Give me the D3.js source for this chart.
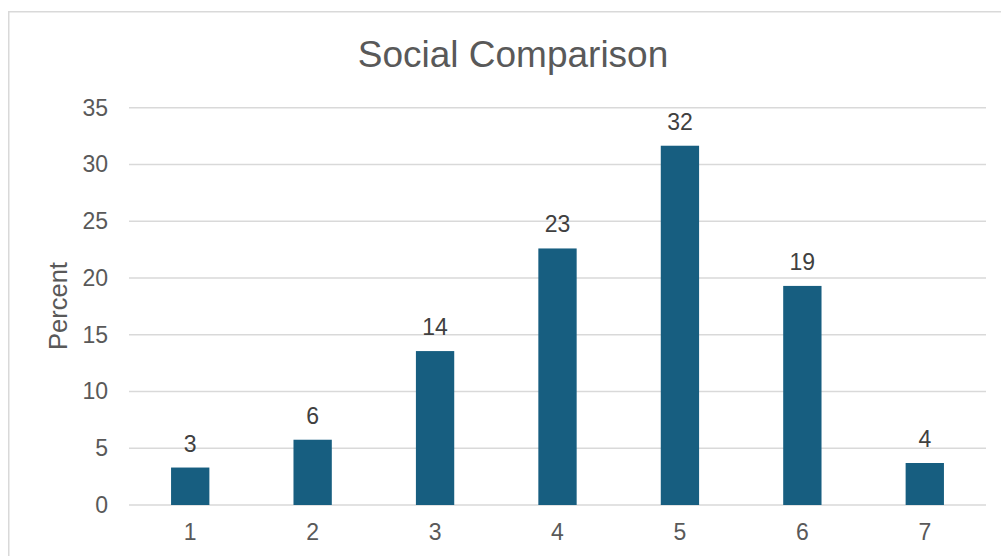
<!DOCTYPE html>
<html>
<head>
<meta charset="utf-8">
<script src="https://cdn.jsdelivr.net/npm/d3@7/dist/d3.min.js"></script>
<style>
  html, body { margin: 0; padding: 0; background: #fff; }
  svg { display: block; font-family: "Liberation Sans", Arial, sans-serif; }
</style>
</head>
<body>
<svg id="chart" width="1001" height="556"></svg>
<script>
// Response scale points and share of respondents (percent)
const categories = ["1", "2", "3", "4", "5", "6", "7"];
const percents = [3.3, 5.75, 13.56, 22.6, 31.65, 19.3, 3.7];
const yTicks = [0, 5, 10, 15, 20, 25, 30, 35];
const chartTitle = "Social Comparison";
const yTitle = "Percent";

const svg = d3.select("#chart");
const W = 1001, H = 556;
const plot = { left: 129, right: 986, top: 107.7, bottom: 505 };

// Chart-area frame
svg.append("rect")
  .attr("x", 8.75).attr("y", 11.75)
  .attr("width", W + 20).attr("height", H + 20)
  .attr("fill", "#fff")
  .attr("stroke", "#d9d9d9").attr("stroke-width", 1.5);

const x = d3.scaleBand()
  .domain(categories)
  .range([plot.left, plot.right])
  .paddingInner(0.687)
  .paddingOuter(0.3435);

const y = d3.scaleLinear()
  .domain([0, 35])
  .range([plot.bottom, plot.top]);

// Horizontal gridlines
svg.append("g")
  .selectAll("line")
  .data(yTicks)
  .join("line")
  .attr("x1", plot.left).attr("x2", plot.right)
  .attr("y1", d => y(d)).attr("y2", d => y(d))
  .attr("stroke", "#d9d9d9").attr("stroke-width", 1.5);

// Y axis tick labels
const yAxis = d3.axisLeft(y).tickValues(yTicks).tickSize(0).tickPadding(0);
const gy = svg.append("g")
  .attr("transform", `translate(${plot.left - 21},0)`)
  .call(yAxis);
gy.select(".domain").remove();
gy.selectAll("text")
  .attr("fill", "#595959")
  .attr("font-size", 23)
  .attr("font-family", "Liberation Sans, Arial, sans-serif");

// X axis category labels
const xAxis = d3.axisBottom(x).tickSize(0).tickPadding(0);
const gx = svg.append("g")
  .attr("transform", `translate(0,${plot.bottom + 19})`)
  .call(xAxis);
gx.select(".domain").remove();
gx.selectAll("text")
  .attr("fill", "#595959")
  .attr("font-size", 23)
  .attr("font-family", "Liberation Sans, Arial, sans-serif");

// Bars
const data = categories.map((c, i) => ({ c, v: percents[i] }));
svg.append("g")
  .selectAll("rect")
  .data(data)
  .join("rect")
  .attr("x", d => x(d.c))
  .attr("width", x.bandwidth())
  .attr("y", d => y(d.v))
  .attr("height", d => y(0) - y(d.v))
  .attr("fill", "#175e80");

// Value labels above bars
svg.append("g")
  .selectAll("text")
  .data(data)
  .join("text")
  .attr("x", d => x(d.c) + x.bandwidth() / 2)
  .attr("y", d => y(d.v) - 16)
  .attr("text-anchor", "middle")
  .attr("fill", "#404040")
  .attr("font-size", 23)
  .text(d => d3.format(".0f")(d.v));

// Title
svg.append("text")
  .attr("x", 513)
  .attr("y", 67)
  .attr("text-anchor", "middle")
  .attr("fill", "#595959")
  .attr("font-size", 37)
  .text(chartTitle);

// Y axis title
svg.append("text")
  .attr("transform", `translate(67,306) rotate(-90)`)
  .attr("text-anchor", "middle")
  .attr("fill", "#595959")
  .attr("font-size", 25.5)
  .text(yTitle);
</script>
</body>
</html>
